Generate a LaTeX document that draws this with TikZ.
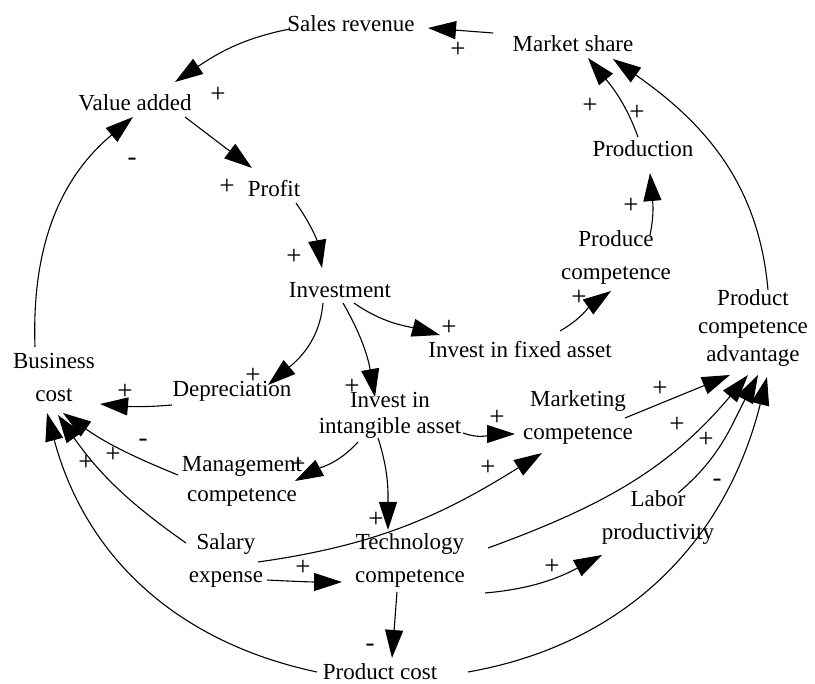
\documentclass[tikz,border=0pt]{standalone}
\usepackage{fontspec}
\setmainfont{Liberation Serif}
\usetikzlibrary{arrows.meta}

\tikzset{
  var/.style={inner sep=1pt, align=center},
  sign/.style={inner sep=0pt, font=\fontsize{27}{30}\selectfont},
  link/.style={line width=1.1pt, -{Triangle[length=28pt,width=18pt]}},
}

\begin{document}
\begin{tikzpicture}[x=1pt, y=1pt, font=\fontsize{23}{33}\selectfont]
\useasboundingbox (0,0) rectangle (815,-684);

% variables
\node[var] (sales)  at (351,-24)  {Sales revenue};
\node[var] (mshare) at (573,-44)  {Market share};
\node[var] (vadd)   at (135,-103) {Value added};
\node[var] (profit) at (274,-189) {Profit};
\node[var] (invest) at (340,-290) {Investment};
\node[var] (prodn)  at (643,-149) {Production};
\node[var] (prodc)  at (616,-257) {Produce\\competence};
\node[var, font=\fontsize{23}{28}\selectfont] (pca) at (753,-328) {Product\\competence\\advantage};
\node[var] (fixed)  at (520,-350) {Invest in fixed asset};
\node[var] (bcost)  at (54,-378)  {Business\\cost};
\node[var] (depr)   at (232,-391) {Depreciation};
\node[var, font=\fontsize{23}{26}\selectfont] (intang) at (390,-415) {Invest in\\intangible asset};
\node[var] (mkt)    at (578,-417) {Marketing\\competence};
\node[var, font=\fontsize{23}{30}\selectfont] (mgmt) at (242,-481) {Management\\competence};
\node[var] (labor)  at (658,-518) {Labor\\productivity};
\node[var] (salary) at (226,-560) {Salary\\expense};
\node[var] (tech)   at (410,-560) {Technology\\competence};
\node[var] (pcost)  at (380,-672) {Product cost};

% causal links
\draw[link] ([shift={(-80,11)}]mshare.center) -- ([shift={(77,-4)}]sales.center);
\draw[link] ([shift={(-61,-5)}]sales.center) to[out=191,in=34] ([shift={(40,21)}]vadd.center);
\draw[link] ([shift={(50,-14)}]vadd.center) -- ([shift={(-22,21)}]profit.center);
\draw[link] ([shift={(22,-14)}]profit.center) to[out=-55,in=100] ([shift={(-18,22)}]invest.center);
\draw[link] ([shift={(14,-13)}]invest.center) to[out=-35,in=165] ([shift={(-80,15)}]fixed.center);
\draw[link] ([shift={(-17,-13)}]invest.center) to[out=-95,in=40] ([shift={(36,6)}]depr.center);
\draw[link] ([shift={(3,-13)}]invest.center) to[out=-60,in=100] ([shift={(-15,18)}]intang.center);
\draw[link] ([shift={(40,19)}]fixed.center) to[out=30,in=215] ([shift={(-5,-34)}]prodc.center);
\draw[link] ([shift={(34,22)}]prodc.center) to[out=78,in=-85] ([shift={(7,-24)}]prodn.center);
\draw[link] ([shift={(-5,12)}]prodn.center) to[out=110,in=-50] ([shift={(15,-14)}]mshare.center);
\draw[link] ([shift={(15,38)}]pca.center) to[out=95,in=-35] ([shift={(40,-15)}]mshare.center);
\draw[link] ([shift={(-60,-14)}]depr.center) to[out=185,in=-5] ([shift={(46,-26)}]bcost.center);
\draw[link] ([shift={(-64,6)}]mgmt.center) to[out=158,in=-35] ([shift={(9,-35)}]bcost.center);
\draw[link] ([shift={(-40,17)}]salary.center) to[out=145,in=-55] ([shift={(4,-37)}]bcost.center);
\draw[link] ([shift={(-63,0)}]pcost.center) to[out=168,in=-75] ([shift={(-7,-35)}]bcost.center);
\draw[link] ([shift={(-19,31)}]bcost.center) to[out=92,in=-140] ([shift={(-2,-14)}]vadd.center);
\draw[link] ([shift={(-32,-27)}]intang.center) to[out=228,in=28] ([shift={(53,0)}]mgmt.center);
\draw[link] ([shift={(-12,-23)}]intang.center) to[out=-72,in=90] ([shift={(-22,30)}]tech.center);
\draw[link] ([shift={(73,-18)}]intang.center) to[out=-20,in=180] ([shift={(-63,-17)}]mkt.center);
\draw[link] ([shift={(32,-2)}]salary.center) to[out=8,in=212] ([shift={(-36,-36)}]mkt.center);
\draw[link] ([shift={(41,-20)}]salary.center) to[out=-3,in=180] ([shift={(-68,-22)}]tech.center);
\draw[link] ([shift={(-13,-32)}]tech.center) -- ([shift={(12,14)}]pcost.center);
\draw[link] ([shift={(78,12)}]tech.center) to[out=20,in=-130] ([shift={(-5,-47)}]pca.center);
\draw[link] ([shift={(75,-33)}]tech.center) to[out=5,in=208] ([shift={(-56,-37)}]labor.center);
\draw[link] ([shift={(47,-1)}]mkt.center) -- ([shift={(-23,-47)}]pca.center);
\draw[link] ([shift={(20,25)}]labor.center) to[out=40,in=-118] ([shift={(5,-47)}]pca.center);
\draw[link] ([shift={(88,0)}]pcost.center) to[out=10,in=-104] ([shift={(14,-49)}]pca.center);

% polarities
\foreach \px/\py/\sg [count=\i] in {458/50/+, 218/95/+, 227/187/+, 294/257/+,
    449/328/+, 253/376/+, 352/387/+, 579/298/+, 631/206/+, 590/106/+,
    637/113/+, 125/392/+, 143/443/-, 113/455/+, 86/463/+, 132/162/-,
    298/465/+, 376/520/+, 497/418/+, 488/468/+, 303/568/+, 370/648/-,
    677/425/+, 552/567/+, 660/389/+, 706/440/+, 717/483/-}
  \node[sign] (pol\i) at (\px,-\py) {\sg};

\end{tikzpicture}
\end{document}
